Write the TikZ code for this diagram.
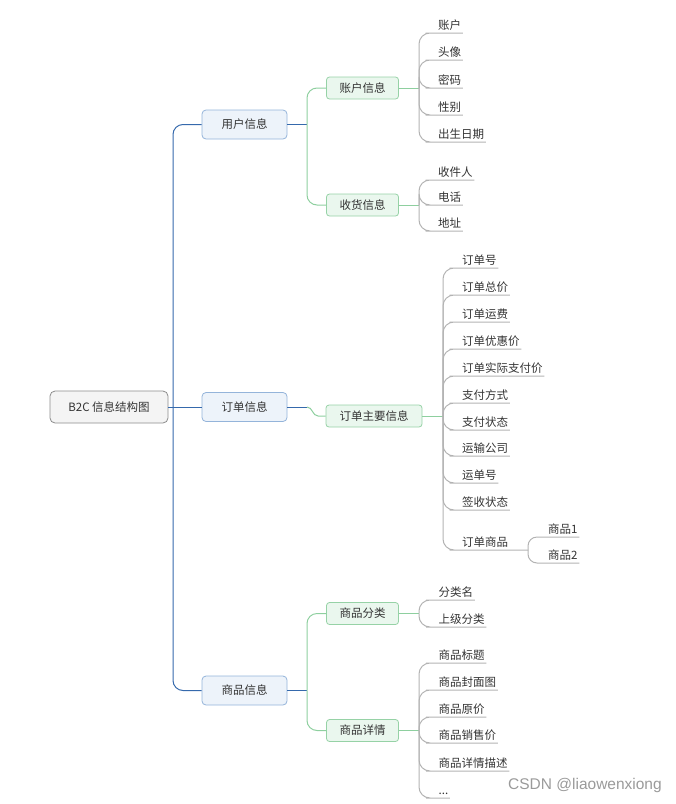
\documentclass[tikz,border=0pt]{standalone}
\usepackage{fontspec}
\setmainfont{Noto Sans CJK SC}
\newfontfamily\wmfont{Liberation Sans}
\definecolor{textc}{HTML}{333333}
\definecolor{rootfill}{HTML}{F4F4F4}
\definecolor{rootdraw}{HTML}{8C8C8C}
\definecolor{bluefill}{HTML}{EDF3FA}
\definecolor{bluedraw}{HTML}{94B4DA}
\definecolor{bluelink}{HTML}{3569AC}
\definecolor{greenfill}{HTML}{EAF7EE}
\definecolor{greendraw}{HTML}{96D2A6}
\definecolor{greenlink}{HTML}{8ECF9F}
\definecolor{graylink}{HTML}{B3B3B3}
\definecolor{wmgray}{HTML}{9A9A9A}
\begin{document}
\begin{tikzpicture}[x=1pt,y=-1pt,
 every node/.style={font=\fontsize{11.5}{13}\selectfont, text=textc},
 rootbox/.style={draw=rootdraw, fill=rootfill, rounded corners=5pt, minimum width=118pt, minimum height=32pt, line width=0.8pt, inner sep=0pt},
 lvone/.style={draw=bluedraw, fill=bluefill, rounded corners=4pt, minimum width=85pt, minimum height=29pt, line width=0.8pt, inner sep=0pt},
 lvtwo/.style={draw=greendraw, fill=greenfill, rounded corners=3pt, minimum width=72pt, minimum height=22pt, line width=0.8pt, inner sep=0pt},
 leaf/.style={anchor=south west, inner xsep=1.5pt, inner ysep=1.5pt, text depth=1.5pt},
 bluel/.style={draw=bluelink, line width=1pt},
 greenl/.style={draw=greenlink, line width=1pt, rounded corners=10pt},
 grayl/.style={draw=graylink, line width=1pt, rounded corners=11pt},
]
\path[use as bounding box] (0,0) rectangle (676,804);

% root and level 1
\node[rootbox] (root) at (109,407) {B2C 信息结构图};
\node[lvone] (user) at (244.5,124.5) {用户信息};
\node[lvone] (order) at (244.5,407) {订单信息};
\node[lvone] (goods) at (244.5,690.5) {商品信息};
\coordinate (rfork) at (173,407);
\draw[bluel] (root.east) -- (rfork);
\draw[bluel, rounded corners=10pt] (rfork) |- (user.west);
\draw[bluel, rounded corners=10pt] (rfork) |- (goods.west);
\draw[bluel] (rfork) -- (order.west);

% level 2
\node[lvtwo] (acct) at (362.5,88) {账户信息};
\node[lvtwo] (ship) at (362.5,205) {收货信息};
\node[lvtwo, minimum width=96pt] (omain) at (374,416) {订单主要信息};
\node[lvtwo] (cat) at (362.5,613.5) {商品分类};
\node[lvtwo] (det) at (362.5,730.5) {商品详情};

\coordinate (ufork) at (307,124.5);
\coordinate (ofork) at (307,407);
\coordinate (oin) at (318,416);
\coordinate (gfork) at (307,690.5);
\draw[bluel] (user.east) -- (ufork);
\draw[greenl] (ufork) |- (acct.west);
\draw[greenl] (ufork) |- (ship.west);
\draw[bluel] (order.east) -- (ofork);
\draw[draw=greenlink, line width=1pt] (ofork) to[out=0,in=180] (oin) -- (omain.west);
\draw[bluel] (goods.east) -- (gfork);
\draw[greenl] (gfork) |- (cat.west);
\draw[greenl] (gfork) |- (det.west);

% forks of level 2
\coordinate (af) at (419,88);
\coordinate (sf) at (419,205);
\coordinate (mf) at (443,416);
\coordinate (cf) at (419,613.5);
\coordinate (df) at (419,730.5);
\coordinate (pf) at (528,550);
\draw[greenl] (acct.east) -- (af);
\draw[greenl] (ship.east) -- (sf);
\draw[greenl] (omain.east) -- (mf);
\draw[greenl] (cat.east) -- (cf);
\draw[greenl] (det.east) -- (df);

% account leaves
\node[leaf] (a1) at (436.5,33) {账户};
\node[leaf] (a2) at (436.5,60) {头像};
\node[leaf] (a3) at (436.5,88) {密码};
\node[leaf] (a4) at (436.5,115) {性别};
\node[leaf] (a5) at (436.5,142) {出生日期};
\foreach \n in {a1,a2,a3,a4,a5} \draw[grayl] (af) |- (\n.south west) -- (\n.south east);

% shipping leaves
\node[leaf] (s1) at (436.5,180) {收件人};
\node[leaf] (s2) at (436.5,205) {电话};
\node[leaf] (s3) at (436.5,231) {地址};
\foreach \n in {s1,s2,s3} \draw[grayl] (sf) |- (\n.south west) -- (\n.south east);

% order main leaves
\node[leaf] (m1) at (460.5,268) {订单号};
\node[leaf] (m2) at (460.5,295) {订单总价};
\node[leaf] (m3) at (460.5,322) {订单运费};
\node[leaf] (m4) at (460.5,349) {订单优惠价};
\node[leaf] (m5) at (460.5,376) {订单实际支付价};
\node[leaf] (m6) at (460.5,403) {支付方式};
\node[leaf] (m7) at (460.5,430) {支付状态};
\node[leaf] (m8) at (460.5,456) {运输公司};
\node[leaf] (m9) at (460.5,483) {运单号};
\node[leaf] (m10) at (460.5,510) {签收状态};
\node[leaf] (m11) at (460.5,550) {订单商品};
\foreach \n in {m1,m2,m3,m4,m5,m6,m7,m8,m9,m10} \draw[grayl] (mf) |- (\n.south west) -- (\n.south east);
\draw[grayl] (mf) |- (m11.south west) -- (pf);

\node[leaf] (p1) at (546.5,537) {商品1};
\node[leaf] (p2) at (546.5,563) {商品2};
\foreach \n in {p1,p2} \draw[grayl, rounded corners=9pt] (pf) |- (\n.south west) -- (\n.south east);

% category leaves
\node[leaf] (c1) at (437,600) {分类名};
\node[leaf] (c2) at (437,627) {上级分类};
\foreach \n in {c1,c2} \draw[grayl] (cf) |- (\n.south west) -- (\n.south east);

% detail leaves
\node[leaf] (d1) at (437,663) {商品标题};
\node[leaf] (d2) at (437,690) {商品封面图};
\node[leaf] (d3) at (437,717) {商品原价};
\node[leaf] (d4) at (437,743) {商品销售价};
\node[leaf] (d5) at (437,771) {商品详情描述};
\node[leaf] (d6) at (437,798) {...};
\foreach \n in {d1,d2,d3,d4,d5,d6} \draw[grayl] (df) |- (\n.south west) -- (\n.south east);

% watermark
\node[font=\wmfont\fontsize{15.5}{18}\selectfont, text=wmgray, anchor=west, inner sep=0pt] (wm) at (508,785) {CSDN @liaowenxiong};
\end{tikzpicture}
\end{document}
